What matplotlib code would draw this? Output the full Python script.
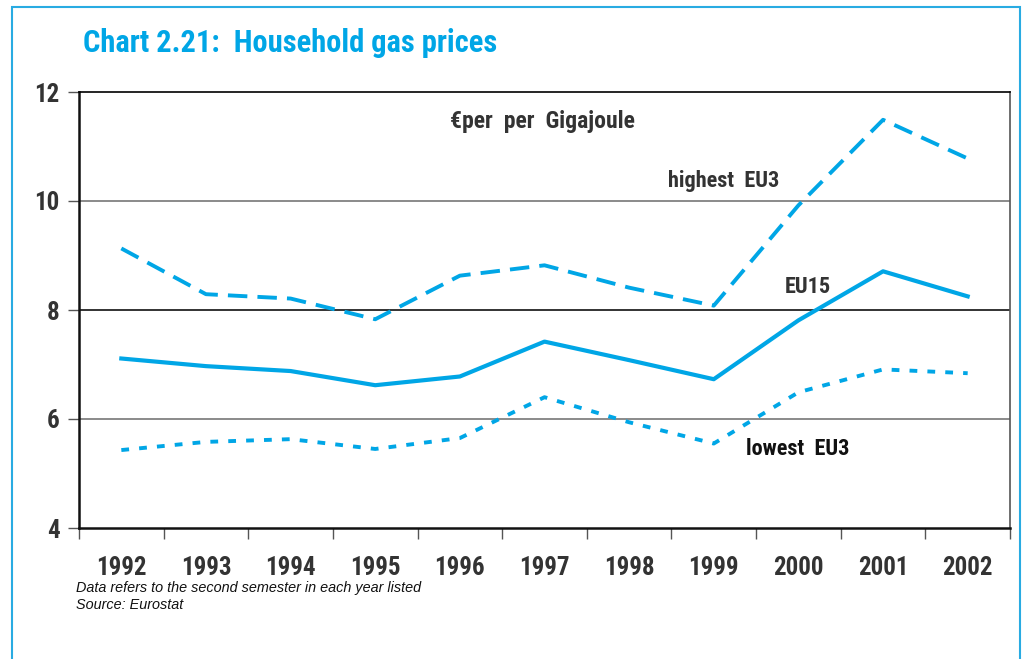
import matplotlib
matplotlib.use("Agg")
import matplotlib.pyplot as plt
from matplotlib.patches import Rectangle
import numpy as np

# values (euro per Gigajoule)
years = ["1992", "1993", "1994", "1995", "1996", "1997", "1998", "1999", "2000", "2001", "2002"]
highest_eu3 = [9.13, 8.29, 8.21, 7.83, 8.63, 8.82, 8.41, 8.08, 9.92, 11.49, 10.78]
eu15 = [7.11, 6.97, 6.88, 6.62, 6.78, 7.42, 7.08, 6.73, 7.81, 8.71, 8.25]
lowest_eu3 = [5.43, 5.58, 5.63, 5.45, 5.65, 6.40, 5.94, 5.55, 6.49, 6.91, 6.84]
y_ticks = [4, 6, 8, 10, 12]

blue = "#00a6e6"
dark = "#333333"

plt.rcParams["font.family"] = ["Roboto Condensed", "DejaVu Sans"]

fig = plt.figure(figsize=(10.23, 6.59), dpi=100)
ax = fig.add_axes([79 / 1023, 131 / 659, 931 / 1023, 436 / 659])

x = np.arange(len(years))
ax.plot(x, highest_eu3, color=blue, lw=2.8, dashes=(5, 2.6))
ax.plot(x, eu15, color=blue, lw=3.0)
ax.plot(x, lowest_eu3, color=blue, lw=2.8, dashes=(2.0, 2.6))

ax.set_xlim(-0.5, len(years) - 0.5)
ax.set_ylim(4, 12)
ax.set_yticks(y_ticks)
ax.set_yticklabels([str(v) for v in y_ticks], fontsize=18, fontweight="bold", color=dark)
ax.tick_params(axis="y", length=8, width=1, pad=6, color="#555555")

ax.set_xticks(x)
ax.set_xticklabels(years, fontsize=18, fontweight="bold", color=dark)
ax.set_xticks(np.arange(-0.5, len(years)), minor=True)
ax.tick_params(axis="x", which="major", length=0, pad=20)
ax.tick_params(axis="x", which="minor", length=8, width=1, color="#555555")

for v, c in zip([6, 8, 10], ["#777777", "#111111", "#777777"]):
    ax.axhline(v, color=c, lw=1.2, zorder=0)

for s in ["left", "bottom"]:
    ax.spines[s].set_linewidth(1.8)
    ax.spines[s].set_color("#111111")
ax.spines["top"].set_linewidth(1.2)
ax.spines["right"].set_linewidth(1.2)
ax.spines["right"].set_color("#555555")

ax.text(3.88, 11.45, "€per  per  Gigajoule", fontsize=17, fontweight="bold", color=dark, va="center")
ax.text(6.46, 10.37, "highest  EU3", fontsize=16, fontweight="bold", color=dark, va="center")
ax.text(7.84, 8.42, "EU15", fontsize=16, fontweight="bold", color=dark, va="center")
ax.text(7.38, 5.45, "lowest  EU3", fontsize=16, fontweight="bold", color="#111111", va="center")

fig.text(83 / 1023, 1 - 43 / 659, "Chart 2.21:  Household gas prices", fontsize=22,
         fontweight="bold", color=blue, va="center")
fig.text(76 / 1023, 1 - 588 / 659, "Data refers to the second semester in each year listed",
         fontsize=10.4, style="italic", family="Liberation Sans", color="#111111", va="center")
fig.text(76 / 1023, 1 - 605 / 659, "Source: Eurostat",
         fontsize=10.4, style="italic", family="Liberation Sans", color="#111111", va="center")

fig.patches.append(Rectangle((12 / 1023, -0.05), 1008 / 1023, 1.05 - 7 / 659,
                             transform=fig.transFigure, fill=False,
                             edgecolor="#29abe2", lw=1.5))

fig.savefig("out.png", dpi=100)
